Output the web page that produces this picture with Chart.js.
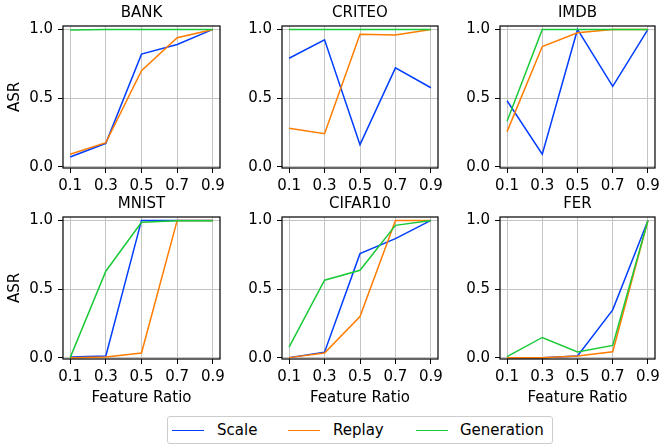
<!DOCTYPE html>
<html lang="en">
<head>
<meta charset="UTF-8" />
<title>ASR vs Feature Ratio</title>
<script src="https://cdn.jsdelivr.net/npm/chart.js"></script>
<style>
  html, body { margin: 0; padding: 0; background: #fff; }
  .wrap {
    position: relative;
    width: 659px;
    height: 445px;
    overflow: hidden;
    font-family: 'DejaVu Sans', sans-serif;
  }
  .wrap canvas { position: absolute; left: 0; top: 0; }
  .legend {
    position: absolute;
    left: 167px;
    top: 416px;
    width: 386px;
    height: 28px;
    box-sizing: border-box;
    border: 1px solid #cccccc;
    border-radius: 3px;
    background: #fff;
  }
  .legend .swatch { position: absolute; height: 1.5px; width: 32px; top: 12.5px; }
  .legend .label { position: absolute; top: 4px; font-size: 15px; line-height: 18px; color: #000; }
</style>
</head>
<body>
<div class="wrap" id="wrap">
  <div class="legend" id="legend"></div>
</div>

<script>
  // x positions and tick labels
  const featureRatio = [0.1, 0.3, 0.5, 0.7, 0.9];
  const xTicks = [0.1, 0.3, 0.5, 0.7, 0.9];
  const yTicks = [0.0, 0.5, 1.0];

  const seriesNames = ['Scale', 'Replay', 'Generation'];
  const seriesColors = ['#023eff', '#ff7c00', '#1ac938'];

  // ASR values
  const bankScale = [0.07, 0.17, 0.82, 0.89, 1.0];
  const bankReplay = [0.09, 0.175, 0.70, 0.94, 1.0];
  const bankGeneration = [0.995, 1.0, 1.0, 1.0, 1.0];

  const criteoScale = [0.79, 0.925, 0.16, 0.72, 0.575];
  const criteoReplay = [0.28, 0.24, 0.965, 0.96, 1.0];
  const criteoGeneration = [1.0, 1.0, 1.0, 1.0, 1.0];

  const imdbScale = [0.48, 0.09, 1.0, 0.585, 1.0];
  const imdbReplay = [0.255, 0.875, 0.975, 1.0, 1.0];
  const imdbGeneration = [0.33, 1.0, 1.0, 1.0, 1.0];

  const mnistScale = [0.005, 0.012, 1.0, 1.0, 1.0];
  const mnistReplay = [0.0, 0.005, 0.034, 1.0, 1.0];
  const mnistGeneration = [0.0, 0.63, 0.986, 0.998, 0.997];

  const cifarScale = [0.0, 0.04, 0.758, 0.867, 1.0];
  const cifarReplay = [0.0, 0.034, 0.30, 1.0, 1.0];
  const cifarGeneration = [0.077, 0.564, 0.637, 0.964, 1.0];

  const ferScale = [0.0, 0.0, 0.012, 0.348, 1.0];
  const ferReplay = [0.0, 0.0, 0.012, 0.043, 1.0];
  const ferGeneration = [0.007, 0.147, 0.041, 0.089, 1.0];

  const panels = [
    { title: 'BANK',    row: 0, col: 0, values: [bankScale, bankReplay, bankGeneration] },
    { title: 'CRITEO',  row: 0, col: 1, values: [criteoScale, criteoReplay, criteoGeneration] },
    { title: 'IMDB',    row: 0, col: 2, values: [imdbScale, imdbReplay, imdbGeneration] },
    { title: 'MNIST',   row: 1, col: 0, values: [mnistScale, mnistReplay, mnistGeneration] },
    { title: 'CIFAR10', row: 1, col: 1, values: [cifarScale, cifarReplay, cifarGeneration] },
    { title: 'FER',     row: 1, col: 2, values: [ferScale, ferReplay, ferGeneration] }
  ];

  // plot box edges in page pixels
  const colLeft = [63, 282, 500];
  const colRight = [220, 438, 655];
  const rowTop = [26, 217];
  const rowBottom = [168, 359];

  const W = 659, H = 445;
  Chart.defaults.font.family = "'DejaVu Sans', sans-serif";
  Chart.defaults.font.size = 15;
  Chart.defaults.color = '#000';

  // black box round each plot, like matplotlib spines
  const frame = {
    id: 'frame',
    afterDatasetsDraw(chart) {
      const { ctx, chartArea: a } = chart;
      ctx.save();
      ctx.strokeStyle = '#000';
      ctx.lineWidth = 1.2;
      ctx.strokeRect(a.left, a.top, a.right - a.left, a.bottom - a.top);
      ctx.restore();
    }
  };

  const wrap = document.getElementById('wrap');

  panels.forEach(p => {
    const canvas = document.createElement('canvas');
    canvas.width = W;
    canvas.height = H;
    wrap.insertBefore(canvas, document.getElementById('legend'));

    const isLeft = p.col === 0;
    const isBottom = p.row === 1;
    const yW = isLeft ? 63 : 40;
    const xH = isBottom ? 51 : 30;
    const left = colLeft[p.col], right = colRight[p.col];
    const top = rowTop[p.row], bottom = rowBottom[p.row];

    new Chart(canvas, {
      type: 'line',
      data: {
        datasets: seriesNames.map((name, i) => ({
          label: name,
          data: featureRatio.map((x, k) => ({ x: x, y: p.values[i][k] })),
          borderColor: seriesColors[i],
          backgroundColor: seriesColors[i],
          borderWidth: 1.5,
          pointRadius: 0,
          tension: 0,
          fill: false,
          order: 2 - i
        }))
      },
      options: {
        responsive: false,
        animation: false,
        events: [],
        layout: {
          padding: { left: left - yW, right: W - right, top: top - 22, bottom: H - bottom - xH }
        },
        plugins: {
          legend: { display: false },
          tooltip: { enabled: false },
          title: {
            display: true,
            text: p.title,
            fullSize: false,
            color: '#000',
            font: { size: 15, weight: 'normal' },
            padding: { top: 0, bottom: 4 }
          }
        },
        scales: {
          x: {
            type: 'linear',
            min: 0.06,
            max: 0.94,
            afterBuildTicks: s => { s.ticks = xTicks.map(v => ({ value: v })); },
            afterFit: s => { s.height = xH; s.paddingLeft = 0; s.paddingRight = 0; },
            ticks: {
              callback: v => Number(v).toFixed(1),
              color: '#000',
              padding: 4,
              maxRotation: 0,
              autoSkip: false
            },
            grid: { color: '#c4c4c4', lineWidth: 1, tickColor: '#000', tickLength: 5 },
            border: { display: false },
            title: {
              display: isBottom,
              text: 'Feature Ratio',
              color: '#000',
              padding: { top: 0, bottom: 2.5 }
            }
          },
          y: {
            type: 'linear',
            min: -0.01,
            max: 1.025,
            afterBuildTicks: s => { s.ticks = yTicks.map(v => ({ value: v })); },
            afterFit: s => { s.width = yW; s.paddingTop = 0; s.paddingBottom = 0; },
            ticks: {
              callback: v => Number(v).toFixed(1),
              color: '#000',
              padding: 5
            },
            grid: { color: '#c4c4c4', lineWidth: 1, tickColor: '#000', tickLength: 5 },
            border: { display: false },
            title: {
              display: isLeft,
              text: 'ASR',
              color: '#000',
              padding: { top: 6, bottom: 0 }
            }
          }
        }
      },
      plugins: [frame]
    });
  });

  // shared legend under the grid
  const legend = document.getElementById('legend');
  const swatchX = [4, 120, 248];
  const labelX = [49, 165, 292];
  seriesNames.forEach((name, i) => {
    const sw = document.createElement('div');
    sw.className = 'swatch';
    sw.style.left = swatchX[i] + 'px';
    sw.style.background = seriesColors[i];
    legend.appendChild(sw);
    const lb = document.createElement('div');
    lb.className = 'label';
    lb.style.left = labelX[i] + 'px';
    lb.textContent = name;
    legend.appendChild(lb);
  });
</script>
</body>
</html>
